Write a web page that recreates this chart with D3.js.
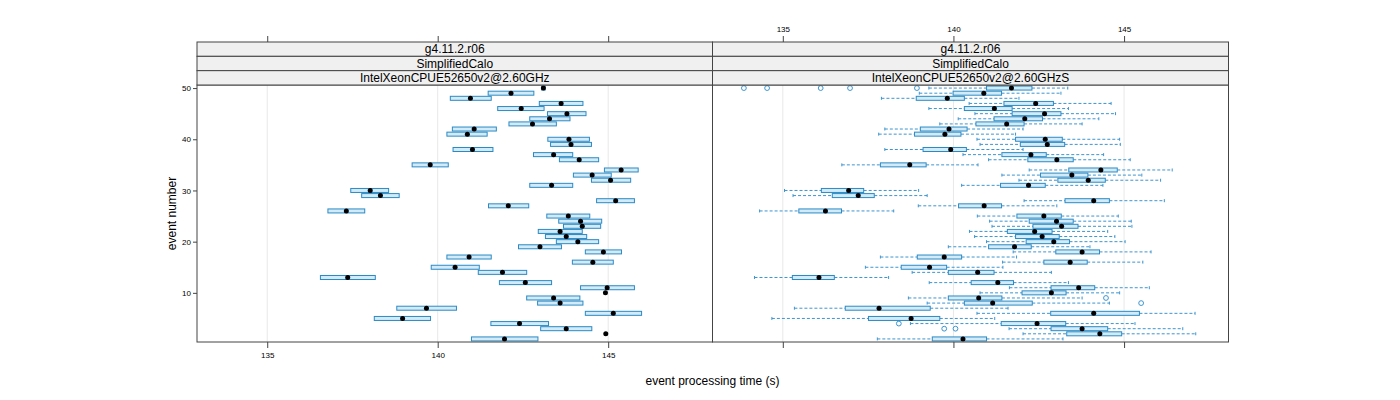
<!DOCTYPE html>
<html>
<head>
<meta charset="utf-8">
<script src="https://cdn.jsdelivr.net/npm/d3@7"></script>
<style>
  html, body { margin: 0; padding: 0; background: #fff; }
  svg { display: block; font-family: "Liberation Sans", Arial, Helvetica, sans-serif; }
</style>
</head>
<body>
<svg id="chart" width="1400" height="400"></svg>
<script>
// ---------------- DATA ----------------
const events = d3.range(1, 51);
const xTicks = [135, 140, 145];
const yTicks = [10, 20, 30, 40, 50];
const stripLevels = ["g4.11.2.r06", "SimplifiedCalo"];
const panelNames = ["IntelXeonCPUE52650v2@2.60GHz", "IntelXeonCPUE52650v2@2.60GHzS"];

// Left panel (IntelXeonCPUE52650v2@2.60GHz): q1, median, q3 per event 1..50
const leftQ1  = [140.99,144.93,143.02,141.56,138.14,144.33,138.80,142.93,142.61,144.92,
                 144.19,141.81,136.56,141.19,139.81,143.95,140.27,144.33,142.37,143.48,
                 143.16,142.95,143.69,143.55,143.20,136.78,141.49,144.66,137.77,137.45,
                 142.70,144.51,143.98,144.89,139.25,143.57,142.81,140.45,143.31,143.23,
                 140.27,140.43,142.09,142.70,143.22,141.76,142.98,140.37,141.48,143.05];
const leftMed = [141.96,144.93,143.77,142.40,138.97,145.15,139.67,143.59,143.40,144.92,
                 144.97,142.57,137.36,141.90,140.51,144.55,140.92,144.86,143.00,144.11,
                 143.77,143.59,144.24,144.19,143.83,137.32,142.07,145.22,138.32,138.02,
                 143.34,145.07,144.53,145.38,139.78,144.15,143.40,141.02,143.91,143.85,
                 140.87,141.07,142.78,143.28,143.79,142.45,143.62,140.96,142.15,143.10];
const leftQ3  = [142.94,144.93,144.52,143.25,139.79,145.98,140.55,144.26,144.17,144.92,
                 145.77,143.34,138.17,142.61,141.22,145.15,141.57,145.39,143.63,144.72,
                 144.37,144.24,144.78,144.81,144.46,137.86,142.67,145.77,138.87,138.56,
                 143.96,145.66,145.09,145.88,140.31,144.72,143.96,141.62,144.51,144.45,
                 141.45,141.72,143.48,143.88,144.35,143.12,144.26,141.57,142.82,143.15];

// Right panel (IntelXeonCPUE52650v2@2.60GHzS): whisker low, q1, median, q3, whisker high
const rightLo  = [137.77,142.04,141.63,138.74,134.68,140.69,135.34,139.23,138.68,140.78,
                  141.64,139.29,134.17,138.79,137.42,141.44,137.86,141.75,139.85,140.97,
                  140.62,140.47,141.13,141.06,140.70,134.32,138.97,142.07,135.30,135.05,
                  140.24,141.92,141.42,142.22,136.73,141.03,140.28,137.99,140.78,140.69,
                  137.81,137.99,139.60,140.14,140.63,139.28,140.46,137.89,139.00,139.28];
const rightQ1  = [139.38,143.32,142.86,141.40,137.51,142.85,136.83,140.32,139.85,142.01,
                  142.86,140.52,135.28,139.85,138.47,142.65,138.94,143.00,141.03,142.13,
                  141.82,141.58,142.33,142.22,141.86,135.47,140.15,143.27,136.45,136.13,
                  141.38,143.06,142.55,143.38,137.86,142.18,141.42,139.11,141.96,141.82,
                  138.86,139.03,140.66,141.19,141.72,140.32,141.48,138.91,139.99,140.97];
const rightMed = [140.28,144.29,143.77,142.45,138.76,144.11,137.82,141.15,140.74,142.87,
                  143.67,141.30,136.06,140.71,139.30,143.42,139.73,143.77,141.79,142.94,
                  142.60,142.38,143.17,143.02,142.65,136.25,140.90,144.11,137.21,136.93,
                  142.20,143.95,143.47,144.32,138.72,143.03,142.27,139.92,142.75,142.69,
                  139.75,139.87,141.56,142.09,142.67,141.20,142.41,139.82,140.89,141.70];
const rightQ3  = [140.97,144.93,144.52,143.29,139.60,145.45,139.32,142.31,141.42,143.30,
                  144.14,141.76,136.51,141.19,139.80,143.92,140.24,144.28,142.28,143.40,
                  143.10,142.89,143.65,143.51,143.16,136.72,141.41,144.57,137.68,137.37,
                  142.69,144.45,143.94,144.80,139.20,143.51,142.72,140.38,143.26,143.19,
                  140.22,140.40,142.07,142.61,143.15,141.72,142.93,140.32,141.41,142.30];
const rightHi  = [143.21,147.10,146.72,145.32,141.21,147.08,141.60,144.57,143.77,144.87,
                  145.74,143.37,138.10,142.87,141.45,145.55,141.85,145.79,144.00,145.03,
                  144.73,144.52,145.23,145.21,144.83,138.25,143.03,146.18,139.23,138.98,
                  144.38,146.07,145.52,146.41,140.72,145.18,144.40,142.04,144.89,144.87,
                  141.82,142.04,143.77,144.26,144.75,143.37,144.62,141.92,143.15,143.35];
const outlierEvent = [3, 3, 4, 8, 9, 50, 50, 50, 50, 50];
const outlierValue = [139.73, 140.06, 138.40, 145.50, 144.47, 133.86, 134.54, 136.11, 136.97, 138.93];

// ---------------- LAYOUT ----------------
const svg = d3.select("#chart");
const panelTop = 85, panelBottom = 342;
const stripTop = 42, stripH = (panelTop - stripTop) / 3;
const panelX = [[197, 712.5], [712.5, 1228.5]];
const xDomain = [132.94, 148.06];
const y = d3.scaleLinear().domain([0.4, 50.6]).range([panelBottom, panelTop]);

const boxStroke = "#2b8ac6", boxFill = "#d2ebf7", whiskCol = "#3d95d0";
const gridCol = "#e8e8e8", frameCol = "#444";

function makeRows(panel) {
  return events.map((e, i) => panel === 0
    ? { e, lo: leftQ1[i], q1: leftQ1[i], med: leftMed[i], q3: leftQ3[i], hi: leftQ3[i] }
    : { e, lo: rightLo[i], q1: rightQ1[i], med: rightMed[i], q3: rightQ3[i], hi: rightHi[i] });
}

panelX.forEach((range, p) => {
  const x = d3.scaleLinear().domain(xDomain).range(range);
  const g = svg.append("g");
  const rows = makeRows(p);

  // grid
  g.selectAll(".grid").data(xTicks).enter().append("line")
    .attr("x1", d => x(d)).attr("x2", d => x(d))
    .attr("y1", panelTop).attr("y2", panelBottom)
    .attr("stroke", gridCol).attr("stroke-width", 1);

  // whiskers (dashed)
  const wh = g.append("g");
  rows.forEach(r => {
    const cy = y(r.e);
    if (r.lo < r.q1) {
      wh.append("line").attr("x1", x(r.lo)).attr("x2", x(r.q1)).attr("y1", cy).attr("y2", cy)
        .attr("stroke", whiskCol).attr("stroke-dasharray", "3,2").attr("stroke-width", 1);
      wh.append("line").attr("x1", x(r.lo)).attr("x2", x(r.lo)).attr("y1", cy - 1.5).attr("y2", cy + 1.5)
        .attr("stroke", whiskCol).attr("stroke-width", 1);
    }
    if (r.hi > r.q3) {
      wh.append("line").attr("x1", x(r.q3)).attr("x2", x(r.hi)).attr("y1", cy).attr("y2", cy)
        .attr("stroke", whiskCol).attr("stroke-dasharray", "3,2").attr("stroke-width", 1);
      wh.append("line").attr("x1", x(r.hi)).attr("x2", x(r.hi)).attr("y1", cy - 1.5).attr("y2", cy + 1.5)
        .attr("stroke", whiskCol).attr("stroke-width", 1);
    }
  });

  // boxes
  g.selectAll(".box").data(rows.filter(r => r.q3 > r.q1)).enter().append("rect")
    .attr("x", d => x(d.q1)).attr("width", d => x(d.q3) - x(d.q1))
    .attr("y", d => y(d.e) - 2).attr("height", 4)
    .attr("fill", boxFill).attr("stroke", boxStroke).attr("stroke-width", 1);

  // outliers
  if (p === 1) {
    g.selectAll(".out").data(outlierEvent.map((e, i) => ({ e, v: outlierValue[i] }))).enter()
      .append("circle")
      .attr("cx", d => x(d.v)).attr("cy", d => y(d.e)).attr("r", 2.4)
      .attr("fill", "none").attr("stroke", whiskCol).attr("stroke-width", 1);
  }

  // medians
  g.selectAll(".med").data(rows).enter().append("circle")
    .attr("cx", d => x(d.med)).attr("cy", d => y(d.e)).attr("r", 2.5)
    .attr("fill", "#000");

  // frame
  g.append("rect").attr("x", range[0]).attr("y", panelTop)
    .attr("width", range[1] - range[0]).attr("height", panelBottom - panelTop)
    .attr("fill", "none").attr("stroke", frameCol).attr("stroke-width", 1);

  // strips
  const stripTexts = [stripLevels[0], stripLevels[1], panelNames[p]];
  stripTexts.forEach((t, k) => {
    g.append("rect").attr("x", range[0]).attr("y", stripTop + k * stripH)
      .attr("width", range[1] - range[0]).attr("height", stripH)
      .attr("fill", "#f0f0f0").attr("stroke", frameCol).attr("stroke-width", 1);
    g.append("text").attr("x", (range[0] + range[1]) / 2).attr("y", stripTop + k * stripH + stripH / 2)
      .attr("text-anchor", "middle").attr("dominant-baseline", "central")
      .attr("font-size", 12).attr("fill", "#000").text(t);
  });

  // bottom axis
  const bAx = d3.axisBottom(x).tickValues(xTicks).tickSize(6).tickPadding(4)
    .tickFormat(p === 0 ? d3.format("d") : () => "");
  const bg = svg.append("g").attr("transform", `translate(0,${panelBottom})`).call(bAx);
  bg.select(".domain").remove();
  bg.selectAll("line").attr("stroke", frameCol);
  bg.selectAll("text").attr("font-size", 8).attr("fill", "#000").attr("font-family", "Liberation Sans, Arial, sans-serif");

  // top axis
  const tAx = d3.axisTop(x).tickValues(xTicks).tickSize(6).tickPadding(4)
    .tickFormat(p === 1 ? d3.format("d") : () => "");
  const tg = svg.append("g").attr("transform", `translate(0,${stripTop})`).call(tAx);
  tg.select(".domain").remove();
  tg.selectAll("line").attr("stroke", frameCol);
  tg.selectAll("text").attr("font-size", 8).attr("fill", "#000").attr("font-family", "Liberation Sans, Arial, sans-serif");
});

// left y axis
const lAx = d3.axisLeft(y).tickValues(yTicks).tickSize(4).tickPadding(2).tickFormat(d3.format("d"));
const lg = svg.append("g").attr("transform", `translate(${panelX[0][0]},0)`).call(lAx);
lg.select(".domain").remove();
lg.selectAll("line").attr("stroke", frameCol);
lg.selectAll("text").attr("font-size", 8).attr("fill", "#000").attr("font-family", "Liberation Sans, Arial, sans-serif");

// axis titles
svg.append("text").attr("x", 712.5).attr("y", 381).attr("text-anchor", "middle")
  .attr("dominant-baseline", "central").attr("font-size", 12).text("event processing time (s)");
svg.append("text").attr("transform", `translate(172,${(panelTop + panelBottom) / 2}) rotate(-90)`)
  .attr("text-anchor", "middle").attr("dominant-baseline", "central")
  .attr("font-size", 12).text("event number");
</script>
</body>
</html>
